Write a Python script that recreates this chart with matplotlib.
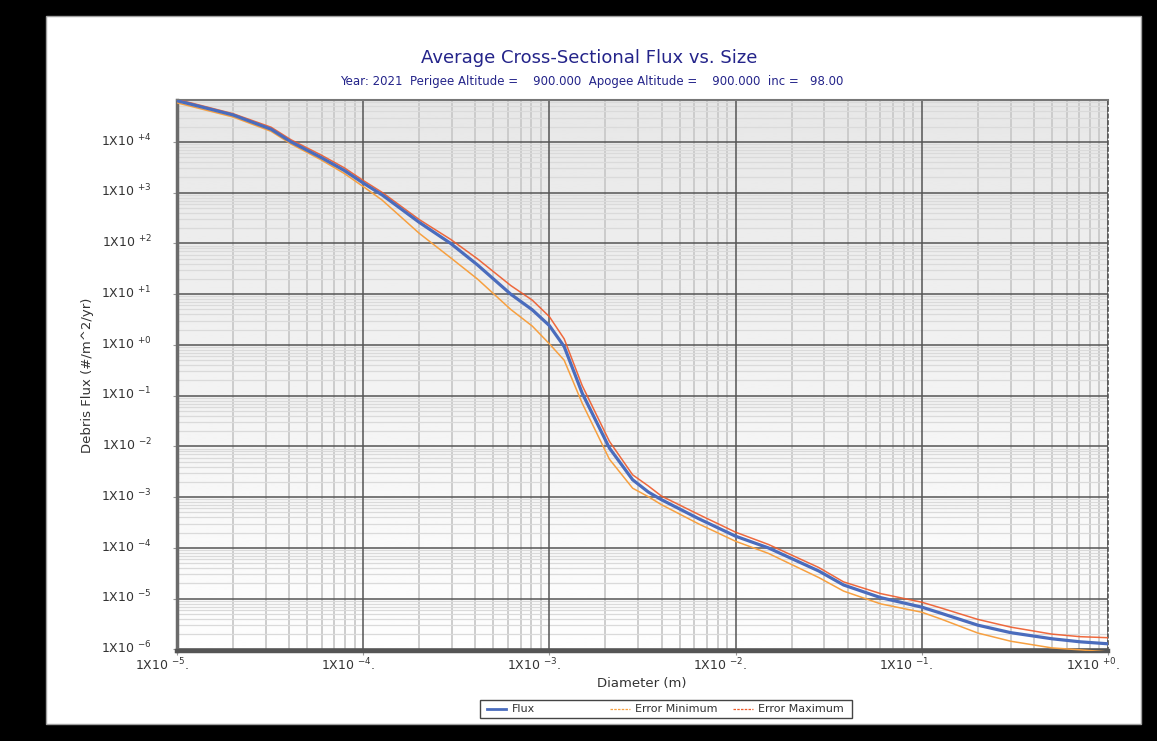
import numpy as np
import matplotlib
matplotlib.use("Agg")
import matplotlib.pyplot as plt
import matplotlib.transforms as mtransforms
from matplotlib.patches import Rectangle
from matplotlib.lines import Line2D
from matplotlib.ticker import FixedLocator, LogLocator, NullFormatter

# ---------------- data ----------------
diameter_m = [1.0e-5, 2.0e-5, 3.2e-5, 4.1e-5, 5.9e-5, 7.9e-5, 1.0e-4, 1.26e-4, 2.0e-4, 2.95e-4,
              4.1e-4, 6.2e-4, 8.1e-4, 1.0e-3, 1.2e-3, 1.5e-3, 2.1e-3, 2.8e-3, 3.4e-3, 4.0e-3,
              6.3e-3, 1.0e-2, 1.5e-2, 2.8e-2, 3.8e-2, 6.0e-2, 1.0e-1, 1.26e-1, 2.0e-1, 3.0e-1,
              5.0e-1, 7.1e-1, 1.0]
flux = [6.5e4, 3.4e4, 1.78e4, 1.0e4, 5.0e3, 2.75e3, 1.55e3, 9.1e2, 2.6e2, 1.0e2,
        38, 10, 4.9, 2.4, 0.93, 0.112, 9.3e-3, 2.2e-3, 1.26e-3, 8.9e-4,
        3.8e-4, 1.7e-4, 1.0e-4, 3.5e-5, 1.86e-5, 1.05e-5, 6.8e-6, 5.2e-6, 3.0e-6, 2.14e-6,
        1.62e-6, 1.41e-6, 1.29e-6]
error_max = [6.9e4, 3.6e4, 1.95e4, 1.1e4, 5.6e3, 3.1e3, 1.74e3, 1.02e3, 2.95e2, 1.2e2,
             50, 14.8, 7.6, 3.6, 1.32, 0.158, 1.26e-2, 2.75e-3, 1.66e-3, 1.05e-3,
             4.6e-4, 2.04e-4, 1.17e-4, 4.1e-5, 2.14e-5, 1.26e-5, 8.5e-6, 6.6e-6, 3.9e-6, 2.75e-6,
             2.0e-6, 1.78e-6, 1.7e-6]
error_min = [5.9e4, 3.1e4, 1.62e4, 9.1e3, 4.5e3, 2.4e3, 1.32e3, 7.2e2, 1.58e2, 52,
             20, 5.0, 2.34, 1.05, 0.50, 7.1e-2, 5.6e-3, 1.5e-3, 1.02e-3, 7.1e-4,
             3.0e-4, 1.35e-4, 7.8e-5, 2.6e-5, 1.41e-5, 7.9e-6, 5.4e-6, 4.0e-6, 2.1e-6, 1.45e-6,
             1.07e-6, 9.8e-7, 8.9e-7]

x_tick_exponents = [-5, -4, -3, -2, -1, 0]
x_tick_labels = ["-5", "-4", "-3", "-2", "-1", "+0"]
y_tick_exponents = [4, 3, 2, 1, 0, -1, -2, -3, -4, -5, -6]
y_tick_labels = ["+4", "+3", "+2", "+1", "+0", "-1", "-2", "-3", "-4", "-5", "-6"]

title = "Average Cross-Sectional Flux vs. Size"
subtitle = "Year: 2021  Perigee Altitude =    900.000  Apogee Altitude =    900.000  inc =   98.00"
xlabel = "Diameter (m)"
ylabel = "Debris Flux (#/m^2/yr)"
series_names = ["Flux", "Error Minimum", "Error Maximum"]

# ---------------- style ----------------
W, H = 1157, 741
C_FLUX = "#4a6cbd"
C_MIN = "#f7a040"
C_MAX = "#ee5a2a"
C_TITLE = "#24248a"
C_TEXT = "#333333"

def fx(px):
    return px / W

def fy(py):
    return 1 - py / H

fig = plt.figure(figsize=(W / 100, H / 100), dpi=100, facecolor="black")

# white panel
fig.add_artist(Rectangle((fx(46), fy(724)), fx(1141) - fx(46), fy(16) - fy(724),
                         transform=fig.transFigure, facecolor="white",
                         edgecolor="#a0a0a0", lw=1.0, zorder=-3))

ax_rect = [fx(177), fy(651), fx(1108) - fx(177), fy(100) - fy(651)]

# gradient background: grey at the top, white at the bottom
bg = fig.add_axes(ax_rect, zorder=-1)
grad = np.linspace(0.995, 0.905, 256).reshape(-1, 1)
bg.imshow(grad, cmap="gray", vmin=0, vmax=1, aspect="auto", extent=(0, 1, 0, 1), origin="lower")
bg.set_axis_off()

ax = fig.add_axes(ax_rect, zorder=0)
ax.set_facecolor("none")
ax.set_xscale("log")
ax.set_yscale("log")

ax.plot(diameter_m, error_min, color=C_MIN, lw=1.1, zorder=3)
ax.plot(diameter_m, error_max, color=C_MAX, lw=1.1, alpha=0.9, zorder=3)
ax.plot(diameter_m, flux, color=C_FLUX, lw=2.3, zorder=4)

ax.set_xlim(1e-5, 1.0)
ax.set_ylim(9.3e-7, 6.7e4)

ax.xaxis.set_major_locator(FixedLocator([10.0 ** e for e in x_tick_exponents]))
ax.yaxis.set_major_locator(FixedLocator([10.0 ** e for e in y_tick_exponents]))
ax.xaxis.set_minor_locator(LogLocator(base=10, subs=np.arange(2, 10), numticks=100))
ax.yaxis.set_minor_locator(LogLocator(base=10, subs=np.arange(2, 10), numticks=100))
ax.xaxis.set_minor_formatter(NullFormatter())
ax.yaxis.set_minor_formatter(NullFormatter())
ax.tick_params(which="both", labelleft=False, labelbottom=False)
ax.tick_params(which="major", length=3, color="#999999", direction="out")
ax.tick_params(which="minor", length=0)

ax.set_axisbelow(True)
ax.grid(which="minor", axis="y", color="#dadada", lw=0.9)
ax.grid(which="minor", axis="x", color="#c9c9c9", lw=1.3)
# major grid on top of the minor grid
for e in x_tick_exponents:
    ax.axvline(10.0 ** e, color="#555555", lw=1.1, zorder=1)
for e in y_tick_exponents:
    ax.axhline(10.0 ** e, color="#555555", lw=1.1, zorder=1)

ax.spines["left"].set_linewidth(2.5)
ax.spines["left"].set_color("#6b6b6b")
ax.spines["bottom"].set_linewidth(3.2)
ax.spines["bottom"].set_color("#555555")
ax.spines["top"].set_linewidth(1.5)
ax.spines["top"].set_color("#777777")
ax.spines["right"].set_linewidth(1.2)
ax.spines["right"].set_color("#555555")
ax.spines["right"].set_linestyle((0, (2, 2)))

# tick labels (drawn as text)
ytrans = ax.get_yaxis_transform() + mtransforms.ScaledTranslation(-25 / 100, -4 / 100, fig.dpi_scale_trans)
for e, lab in zip(y_tick_exponents, y_tick_labels):
    ax.text(0, 10.0 ** e, "1X10 $^{" + lab + "}$", transform=ytrans, ha="right", va="baseline",
            fontsize=9, color=C_TEXT)

xtrans = ax.get_xaxis_transform() + mtransforms.ScaledTranslation(12 / 100, -19 / 100, fig.dpi_scale_trans)
for e, lab in zip(x_tick_exponents, x_tick_labels):
    ax.text(10.0 ** e, 0, "1X10 $^{" + lab + "}$.", transform=xtrans, ha="right", va="baseline",
            fontsize=9, color=C_TEXT)

fig.text(fx(642), fy(683), xlabel, ha="center", va="center", fontsize=9.5, color=C_TEXT)
fig.text(fx(88), fy(375), ylabel, ha="center", va="center", rotation=90, fontsize=9.5, color=C_TEXT)

fig.text(fx(589), fy(58), title, ha="center", va="center", fontsize=13, color=C_TITLE)
fig.text(fx(592), fy(82), subtitle, ha="center", va="center", fontsize=8.5, color=C_TITLE)

# legend (manual)
fig.add_artist(Rectangle((fx(480), fy(718)), fx(852) - fx(480), fy(700) - fy(718),
                         transform=fig.transFigure, facecolor="white", edgecolor="#444444", lw=1.0))
ly = fy(709)
fig.add_artist(Line2D([fx(487), fx(506)], [ly, ly], transform=fig.transFigure, color=C_FLUX, lw=2.0))
fig.text(fx(512), ly, series_names[0], ha="left", va="center", fontsize=8, color=C_TEXT)
fig.add_artist(Line2D([fx(610), fx(630)], [ly, ly], transform=fig.transFigure, color=C_MIN, lw=0.9,
                      linestyle=(0, (2, 1))))
fig.text(fx(635), ly, series_names[1], ha="left", va="center", fontsize=8, color=C_TEXT)
fig.add_artist(Line2D([fx(733), fx(753)], [ly, ly], transform=fig.transFigure, color=C_MAX, lw=0.9,
                      linestyle=(0, (2, 1))))
fig.text(fx(758), ly, series_names[2], ha="left", va="center", fontsize=8, color=C_TEXT)

fig.savefig("out.png", dpi=100, facecolor="black")
